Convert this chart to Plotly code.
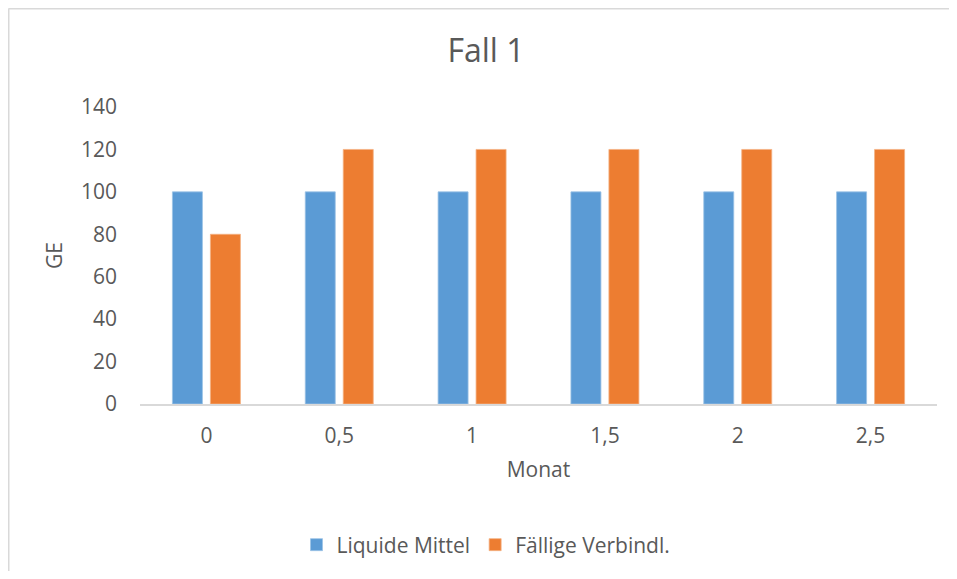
import plotly.graph_objects as go

categories = ["0", "0,5", "1", "1,5", "2", "2,5"]
liquide_mittel = [100, 100, 100, 100, 100, 100]
faellige_verbindl = [80, 120, 120, 120, 120, 120]
y_ticks = [0, 20, 40, 60, 80, 100, 120, 140]

# page has an 8px body margin; figure sized to fit the 957x579 window
OFF = 8
W, H = 957 - 2 * OFF, 579 - 2 * OFF
L, T = 140 - OFF, 107 - OFF
pw, ph = 797, 297
R, B = W - L - pw, H - T - ph

def px_x(p):
    return (p - L) / pw

def px_y(p):
    return (T + ph - p) / ph

txt = "#595959"
font = "Open Sans"

fig = go.Figure()
fig.add_trace(go.Bar(x=categories, y=liquide_mittel, name="Liquide Mittel",
                     marker=dict(color="#5B9BD5", line=dict(color="#9CC3E6", width=0.8))))
fig.add_trace(go.Bar(x=categories, y=faellige_verbindl, name="Fällige Verbindl.",
                     marker=dict(color="#ED7D31", line=dict(color="#F4B183", width=0.8))))

fig.update_layout(
    width=W, height=H,
    margin=dict(l=L, r=R, t=T, b=B),
    paper_bgcolor="white", plot_bgcolor="white",
    font=dict(family=font, color=txt, size=21),
    barmode="group", bargap=0.428, bargroupgap=0.21,
    title=dict(text="Fall 1", font=dict(size=32, color=txt, family=font),
               x=(486 - OFF) / W, xref="container", xanchor="center",
               y=1 - (51 - OFF) / H, yref="container", yanchor="middle"),
    legend=dict(orientation="h", xref="container", yref="container",
                x=(486 - OFF) / W, xanchor="center", y=1 - (545 - OFF) / H, yanchor="middle",
                font=dict(size=21, color=txt), itemclick=False),
    xaxis=dict(type="category", showgrid=False, showline=True, linecolor="#D9D9D9",
               linewidth=2, ticks="", ticklabelstandoff=12,
               tickfont=dict(size=21, color=txt),
               title=dict(text="Monat", font=dict(size=21, color=txt), standoff=14)),
    yaxis=dict(range=[0, 140], tickvals=y_ticks, showgrid=False, showline=False,
               zeroline=False, ticks="", ticklabelstandoff=22,
               tickfont=dict(size=21, color=txt),
               title=dict(text="GE", font=dict(size=21, color=txt), standoff=12)),
    shapes=[
        dict(type="line", xref="paper", yref="paper", x0=px_x(0.5), x1=px_x(0.5),
             y0=px_y(0.5), y1=px_y(H + 10), line=dict(color="#D9D9D9", width=2)),
        dict(type="line", xref="paper", yref="paper", x0=px_x(0.5), x1=px_x(W + 10),
             y0=px_y(0.5), y1=px_y(0.5), line=dict(color="#D9D9D9", width=2)),
    ],
)

fig.write_html("out.html")
